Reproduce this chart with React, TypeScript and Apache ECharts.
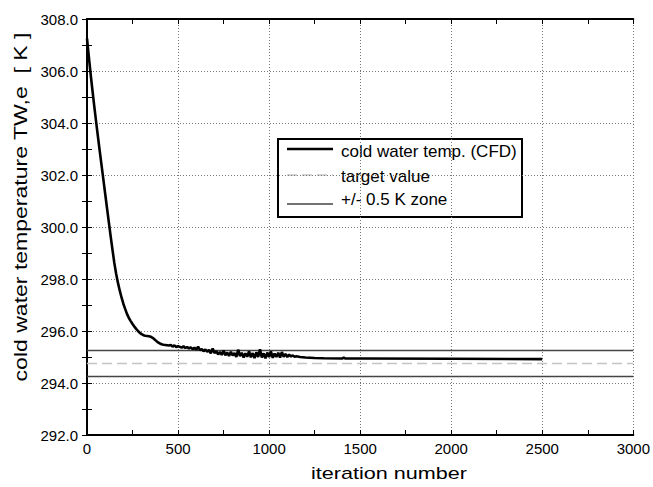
import React, { useEffect, useRef } from "react";
import * as echarts from "echarts";

const iterations = [
  0, 10, 20, 30, 40, 50, 60, 70, 80, 90, 100, 110, 120, 130, 140, 150, 160, 170, 180, 190,
  200, 210, 220, 230, 240, 250, 260, 270, 280, 290, 300, 310, 320, 330, 340, 350, 360, 370, 380, 390,
  400, 410, 420, 430, 440,
  450, 460, 470, 480, 490, 500, 510, 520, 530, 540, 550, 560, 570, 580, 590, 600, 610, 620, 630, 640,
  650, 660, 670, 680, 690, 700, 710, 720, 730, 740, 750, 760, 770, 780, 790, 800, 810, 820, 830, 840,
  850, 860, 870, 880, 890, 900, 910, 920, 930, 940, 950, 960, 970, 980, 990, 1000, 1010, 1020, 1030, 1040,
  1050, 1060, 1070, 1080, 1090, 1100, 1110, 1120, 1130, 1140, 1150,
  1170, 1200, 1250, 1300, 1400, 1410, 1420, 1500, 2000, 2500,
];

const coldWaterTemp = [
  307.25, 306.55, 305.88, 305.25, 304.64, 304.05, 303.48, 302.92, 302.37, 301.82, 301.27, 300.72, 300.18, 299.64, 299.12, 298.62, 298.2, 297.85, 297.55, 297.28,
  297.04, 296.84, 296.65, 296.5, 296.38, 296.27, 296.17, 296.08, 296.0, 295.93, 295.88, 295.84, 295.82, 295.81, 295.8, 295.78, 295.74, 295.68, 295.62, 295.56,
  295.52, 295.49, 295.47, 295.46, 295.45,
  295.44, 295.46, 295.40, 295.45, 295.38, 295.42, 295.39, 295.36, 295.41, 295.35, 295.38, 295.33, 295.37, 295.30, 295.36, 295.28, 295.40, 295.26, 295.31, 295.22,
  295.29, 295.20, 295.27, 295.14, 295.33, 295.15, 295.22, 295.10, 295.19, 295.08, 295.25, 295.07, 295.17, 295.04, 295.20, 295.06, 295.15, 295.00, 295.28, 295.03,
  295.16, 294.98, 295.14, 295.01, 295.22, 294.99, 295.15, 294.96, 295.18, 295.00, 295.30, 294.98, 295.14, 294.95, 295.17, 295.00, 295.22, 294.97, 295.13, 295.00,
  295.16, 294.98, 295.19, 295.01, 295.12, 295.00, 295.09, 295.02, 295.06, 295.01, 295.03,
  295.0, 294.98, 294.96, 294.95, 294.94, 294.98, 294.94, 294.94, 294.93, 294.92,
];

const targetValue = 294.75;
const zoneUpper = 295.25;
const zoneLower = 294.25;
const xRange = [0, 3000];

const seriesNames = ["cold water temp. (CFD)", "target value", "+/- 0.5 K zone"];
const xAxisTitle = "iteration number";
const yAxisTitle = "cold water temperature TW,e  [ K ]";

const FONT = "'Liberation Sans', Arial, Helvetica, sans-serif";

const CFD_COLOR = "#000";
const TARGET_COLOR = "#c4c4c4";
const ZONE_COLOR = "#444";

export default function App() {
  const ref = useRef<HTMLDivElement>(null);

  useEffect(() => {
    if (!ref.current) return;
    const chart = echarts.init(ref.current, undefined, { renderer: "svg" });

    const tickCommon = {
      axisLine: { show: true, lineStyle: { color: "#000", width: 2 } },
      axisTick: { show: true, inside: true, length: 5, lineStyle: { color: "#000", width: 1 } },
      minorTick: { show: true, splitNumber: 2, length: 5, lineStyle: { color: "#000", width: 1 } },
    };

    const cfdData = iterations.map((x, i) => [x, coldWaterTemp[i]]);

    const legendX = 278;
    const legendY = 139;
    const legendTextStyle = {
      fontSize: 17,
      fontFamily: FONT,
      fill: "#000",
      align: "left",
      verticalAlign: "middle",
    };

    chart.setOption({
      animation: false,
      backgroundColor: "#fff",
      grid: { left: 87, right: 16, top: 19, bottom: 52, containLabel: false },
      xAxis: [
        {
          type: "value",
          min: 0,
          max: 3000,
          interval: 500,
          position: "bottom",
          ...tickCommon,
          axisLabel: {
            show: true,
            color: "#000",
            fontSize: 15,
            fontFamily: FONT,
            margin: 6,
            formatter: (v: number) => String(v),
          },
          splitLine: { show: true, lineStyle: { color: "#777", type: [1, 2], width: 1 } },
        },
        {
          type: "value",
          min: 0,
          max: 3000,
          interval: 500,
          position: "top",
          ...tickCommon,
          axisLabel: { show: false },
          splitLine: { show: false },
        },
      ],
      yAxis: [
        {
          type: "value",
          min: 292,
          max: 308,
          interval: 2,
          position: "left",
          ...tickCommon,
          axisLabel: {
            show: true,
            color: "#000",
            fontSize: 15,
            fontFamily: FONT,
            margin: 9,
            formatter: (v: number) => v.toFixed(1),
          },
          splitLine: { show: true, lineStyle: { color: "#777", type: [1, 2], width: 1 } },
        },
        {
          type: "value",
          min: 292,
          max: 308,
          interval: 2,
          position: "right",
          ...tickCommon,
          axisLabel: { show: false },
          splitLine: { show: false },
        },
      ],
      legend: { show: false },
      graphic: [
        {
          type: "text",
          x: 389,
          y: 473,
          scaleX: 1.27,
          style: {
            text: xAxisTitle,
            fontSize: 17,
            fontFamily: FONT,
            fill: "#000",
            align: "center",
            verticalAlign: "middle",
          },
        },
        {
          type: "text",
          x: 20,
          y: 207,
          rotation: Math.PI / 2,
          scaleX: 1.28,
          style: {
            text: yAxisTitle,
            fontSize: 18,
            fontFamily: FONT,
            fill: "#000",
            align: "center",
            verticalAlign: "middle",
          },
        },
        {
          type: "group",
          x: legendX,
          y: legendY,
          z: 100,
          children: [
            {
              type: "rect",
              shape: { x: 0, y: 0, width: 244, height: 78 },
              style: { fill: "#fff", stroke: "#000", lineWidth: 2 },
            },
            {
              type: "line",
              shape: { x1: 9, y1: 10, x2: 55, y2: 10 },
              style: { stroke: CFD_COLOR, lineWidth: 2.6 },
            },
            {
              type: "text",
              x: 63,
              y: 12,
              style: { ...legendTextStyle, text: seriesNames[0] },
            },
            {
              type: "line",
              shape: { x1: 9, y1: 36, x2: 55, y2: 36 },
              style: { stroke: TARGET_COLOR, lineWidth: 1.6, lineDash: [10, 5] },
            },
            {
              type: "text",
              x: 63,
              y: 37,
              style: { ...legendTextStyle, text: seriesNames[1] },
            },
            {
              type: "line",
              shape: { x1: 9, y1: 65, x2: 55, y2: 65 },
              style: { stroke: ZONE_COLOR, lineWidth: 1.6 },
            },
            {
              type: "text",
              x: 63,
              y: 60,
              style: { ...legendTextStyle, text: seriesNames[2] },
            },
          ],
        },
      ],
      series: [
        {
          name: seriesNames[2],
          type: "line",
          symbol: "none",
          data: [[xRange[0], zoneUpper], [xRange[1], zoneUpper]],
          lineStyle: { color: ZONE_COLOR, width: 1.6 },
          itemStyle: { color: ZONE_COLOR },
          z: 2,
        },
        {
          name: seriesNames[2],
          type: "line",
          symbol: "none",
          data: [[xRange[0], zoneLower], [xRange[1], zoneLower]],
          lineStyle: { color: ZONE_COLOR, width: 1.6 },
          itemStyle: { color: ZONE_COLOR },
          z: 2,
        },
        {
          name: seriesNames[1],
          type: "line",
          symbol: "none",
          data: [[xRange[0], targetValue], [xRange[1], targetValue]],
          lineStyle: { color: TARGET_COLOR, width: 1.6, type: [10, 5] },
          itemStyle: { color: TARGET_COLOR },
          z: 2,
        },
        {
          name: seriesNames[0],
          type: "line",
          symbol: "none",
          data: cfdData,
          lineStyle: { color: CFD_COLOR, width: 2.6 },
          itemStyle: { color: CFD_COLOR },
          z: 3,
        },
      ],
    });

    return () => chart.dispose();
  }, []);

  return <div ref={ref} style={{ width: 653, height: 487, position: "absolute", left: 0, top: 0 }} />;
}
